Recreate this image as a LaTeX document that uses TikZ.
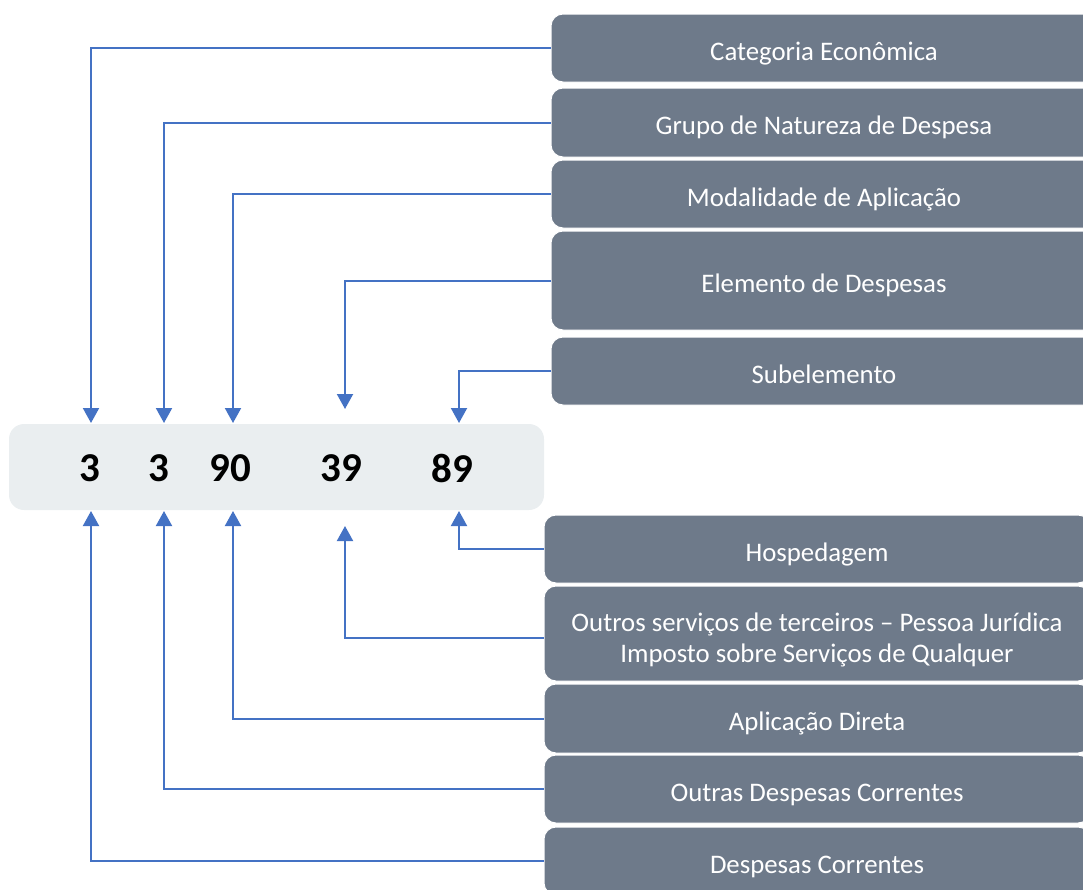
\documentclass[tikz,border=0pt]{standalone}
\usepackage{fontspec}
\setmainfont{Carlito}
\usetikzlibrary{positioning,calc,arrows.meta}

\definecolor{tagfill}{HTML}{6E7A8A}
\definecolor{codefill}{HTML}{EAEEF0}
\definecolor{linkblue}{HTML}{4472C4}

\begin{document}
\begin{tikzpicture}[
    x=1pt, y=-1pt,
    >={Triangle[width=16pt,length=15pt]},
    every node/.style={font=\fontsize{26.8}{31}\selectfont},
    tag/.style={draw=white, line width=1pt, fill=tagfill, text=white,
        rounded corners=12pt, minimum width=546pt, inner sep=0pt, align=center,
        text height=24pt, text depth=0pt},
    digit/.style={font=\fontsize{41}{41}\selectfont\bfseries, inner sep=0pt},
    link/.style={->, draw=linkblue, line width=2pt}
]

%======================
% Frame
%======================

\useasboundingbox (0,0) rectangle (1083,889);
\clip (0,0) rectangle (1083,889);

%======================
% Code box
%======================

\node[fill=codefill, rounded corners=15pt, minimum width=535pt,
      minimum height=86pt, inner sep=0pt] (code) at (276.5,467) {};

\node[digit] (d1) at (90,468)  {3};
\node[digit] (d2) at (159,468) {3};
\node[digit] (d3) at (230,468) {90};
\node[digit] (d4) at (341,468) {39};
\node[digit] (d5) at (452,468) {89};

%======================
% Arrow ends
%======================

\def\TopY{423}
\def\BotY{511}

\coordinate (t1) at (91,\TopY);
\coordinate (t2) at (164,\TopY);
\coordinate (t3) at (233,\TopY);
\coordinate (t4) at (345,409);
\coordinate (t5) at (459,\TopY);

\coordinate (b1) at (91,\BotY);
\coordinate (b2) at (164,\BotY);
\coordinate (b3) at (233,\BotY);
\coordinate (b4) at (345,526);
\coordinate (b5) at (459,\BotY);

%======================
% Upper labels
%======================

\def\TX{824}

\node[tag, minimum height=68pt] (cat)  at (\TX,48)    {Categoria Econômica};
\node[tag, minimum height=69pt] (grp)  at (\TX,122.5) {Grupo de Natureza de Despesa};
\node[tag, minimum height=68pt] (mod)  at (\TX,194)   {Modalidade de Aplicação};
\node[tag, minimum height=99pt] (elem) at (\TX,280.5) {Elemento de Despesas};
\node[tag, minimum height=68pt] (sub)  at (\TX,371)   {Subelemento};

%======================
% Lower labels
%======================

\def\BX{817}

\node[tag, minimum height=68pt] (hosp) at (\BX,549)   {Hospedagem};
\node[tag, minimum height=95pt, text height={}, text depth={}] (serv) at (\BX,633.5)
    {\rule{0pt}{31pt}Outros serviços de terceiros -- Pessoa Jurídica\\Imposto sobre Serviços de Qualquer};
\node[tag, minimum height=69pt] (apl)  at (\BX,718.5) {Aplicação Direta};
\node[tag, minimum height=68pt] (ocor) at (\BX,789)   {Outras Despesas Correntes};
\node[tag, minimum height=68pt] (dcor) at (\BX,861)   {Despesas Correntes};

%======================
% Links
%======================

% Upper
\draw[link] (cat.west)  -| (t1);
\draw[link] (grp.west)  -| (t2);
\draw[link] (mod.west)  -| (t3);
\draw[link] (elem.west) -| (t4);
\draw[link] (sub.west)  -| (t5);

% Lower
\draw[link] (hosp.west) -| (b5);
\draw[link] ($(serv.west)+(0,4.5)$) -| (b4);
\draw[link] (apl.west)  -| (b3);
\draw[link] (ocor.west) -| (b2);
\draw[link] (dcor.west) -| (b1);

\end{tikzpicture}
\end{document}
